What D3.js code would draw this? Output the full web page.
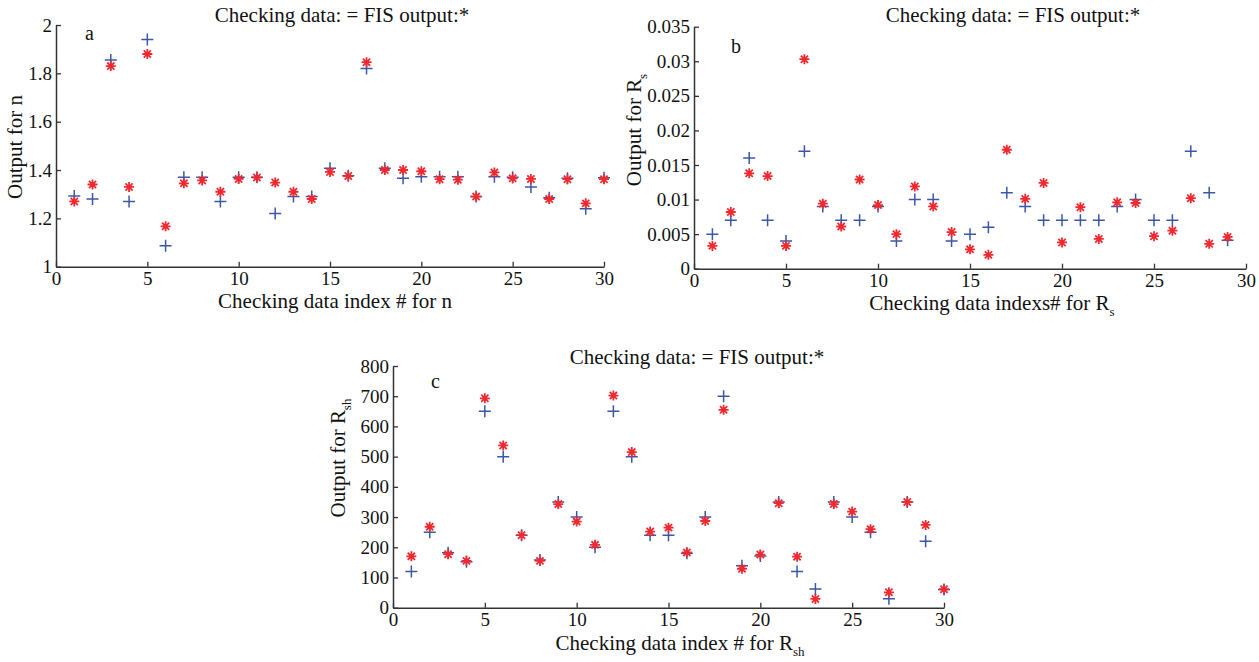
<!DOCTYPE html>
<html>
<head>
<meta charset="utf-8">
<script src="https://cdn.jsdelivr.net/npm/d3@7"></script>
<style>
body { margin: 0; background: #fff; }
text { font-family: "Liberation Serif", "Times New Roman", serif; fill: #111; }
</style>
</head>
<body>
<script>
// checking data index (x) for each panel
var idx30 = [1,2,3,4,5,6,7,8,9,10,11,12,13,14,15,16,17,18,19,20,21,22,23,24,25,26,27,28,29,30];
var idx29 = [1,2,3,4,5,6,7,8,9,10,11,12,13,14,15,16,17,18,19,20,21,22,23,24,25,26,27,28,29];

// panel a : n
var nChecking = [1.292,1.28,1.855,1.27,1.94,1.087,1.37,1.37,1.27,1.37,1.37,1.22,1.29,1.29,1.407,1.376,1.82,1.407,1.366,1.372,1.372,1.372,1.29,1.372,1.37,1.33,1.285,1.366,1.24,1.368];
var nFIS = [1.27,1.34,1.83,1.33,1.88,1.167,1.345,1.357,1.31,1.363,1.369,1.348,1.31,1.28,1.392,1.375,1.846,1.40,1.40,1.395,1.362,1.36,1.29,1.39,1.366,1.363,1.28,1.362,1.262,1.362];

// panel b : Rs
var rsChecking = [0.005,0.007,0.016,0.007,0.004,0.017,0.009,0.007,0.007,0.009,0.004,0.010,0.010,0.004,0.005,0.006,0.011,0.009,0.007,0.007,0.007,0.007,0.009,0.010,0.007,0.007,0.017,0.011,0.0041];
var rsFIS = [0.0033,0.0082,0.0138,0.0134,0.0033,0.0303,0.0094,0.0061,0.0129,0.0092,0.005,0.0119,0.009,0.0053,0.0028,0.002,0.0172,0.0101,0.0124,0.0038,0.0089,0.0043,0.0096,0.0095,0.0047,0.0055,0.0102,0.0036,0.0046];

// panel c : Rsh
var rshChecking = [120,250,182,152,650,500,240,158,350,300,200,650,500,240,240,180,300,700,139,171,350,120,62,350,300,250,30,350,220,60];
var rshFIS = [170,268,177,155,693,537,240,155,343,285,208,702,515,252,265,183,287,655,129,176,346,169,29,343,318,260,51,350,274,61];

var xTicks = [0,5,10,15,20,25,30];
var nTicks = [1,1.2,1.4,1.6,1.8,2];
var rsTicks = [0,0.005,0.01,0.015,0.02,0.025,0.03,0.035];
var rshTicks = [0,100,200,300,400,500,600,700,800];

var titleText = "Checking data: = FIS output:*";

var width = 1259, height = 662;
var svg = d3.select("body").append("svg")
  .attr("width", width)
  .attr("height", height);

var blue = "#3b57a8";
var red = "#ee2a30";
var serif = "'Liberation Serif', 'Times New Roman', serif";

function drawPanel(p) {
  var x = d3.scaleLinear().domain([0, 30]).range([p.left, p.right]);
  var y = d3.scaleLinear().domain(p.yDomain).range([p.bottom, p.top]);
  var g = svg.append("g");

  var xAxis = g.append("g")
    .attr("transform", "translate(0," + p.bottom + ")")
    .call(d3.axisBottom(x).tickValues(xTicks).tickSizeInner(-5).tickSizeOuter(0).tickPadding(5));
  var yAxis = g.append("g")
    .attr("transform", "translate(" + p.left + ",0)")
    .call(d3.axisLeft(y).tickValues(p.yTicks).tickSizeInner(-5).tickSizeOuter(0).tickPadding(4).tickFormat(p.fmt));

  [xAxis, yAxis].forEach(function (a) {
    a.attr("font-family", serif).attr("font-size", 19);
    a.selectAll("path").attr("stroke", "#333").attr("stroke-width", 1.5);
    a.selectAll("line").attr("stroke", "#333").attr("stroke-width", 1.3);
    a.selectAll("text").attr("fill", "#111")
      .style("font-size", "19px")
      .style("font-family", serif);
  });

  // checking data: blue plus
  g.append("g").selectAll("path")
    .data(p.checking)
    .enter().append("path")
    .attr("d", function (d, i) {
      var cx = x(p.idx[i]), cy = y(d), s = 6;
      return "M" + (cx - s) + "," + cy + "H" + (cx + s) + "M" + cx + "," + (cy - s) + "V" + (cy + s);
    })
    .attr("stroke", blue)
    .attr("stroke-width", 1.5)
    .attr("fill", "none");

  // FIS output: red star
  g.append("g").selectAll("path")
    .data(p.fis)
    .enter().append("path")
    .attr("d", function (d, i) {
      var cx = x(p.idx[i]), cy = y(d), s = 5, t = 3.6;
      return "M" + (cx - s) + "," + cy + "H" + (cx + s) +
        "M" + cx + "," + (cy - s) + "V" + (cy + s) +
        "M" + (cx - t) + "," + (cy - t) + "L" + (cx + t) + "," + (cy + t) +
        "M" + (cx - t) + "," + (cy + t) + "L" + (cx + t) + "," + (cy - t);
    })
    .attr("stroke", red)
    .attr("stroke-width", 1.8)
    .attr("fill", "none");

  g.append("text")
    .attr("x", p.titleX).attr("y", p.titleY)
    .attr("text-anchor", "middle")
    .style("font-size", "21px")
    .text(titleText);

  var xl = g.append("text")
    .attr("x", p.xlX).attr("y", p.xlY)
    .attr("text-anchor", "middle")
    .style("font-size", "21px")
    .text(p.xlabel);
  if (p.sub) xl.append("tspan").attr("dy", 6).style("font-size", "13px").text(p.sub);

  var yl = g.append("text")
    .attr("transform", "translate(" + p.ylX + "," + p.ylY + ") rotate(-90)")
    .attr("text-anchor", "middle")
    .style("font-size", "21px")
    .text(p.ylabel);
  if (p.sub) yl.append("tspan").attr("dy", 6).style("font-size", "13px").text(p.sub);

  g.append("text")
    .attr("x", p.letterX).attr("y", p.letterY)
    .style("font-size", "20px")
    .text(p.letter);
}

function fmtPlain(d) { return d === 0 ? "0" : String(+d.toFixed(3)); }

drawPanel({
  idx: idx30, checking: nChecking, fis: nFIS,
  left: 56, right: 604, top: 25, bottom: 266.7,
  yDomain: [1, 2], yTicks: nTicks, fmt: fmtPlain,
  titleX: 342, titleY: 22,
  xlabel: "Checking data index # for n", sub: null, xlX: 335, xlY: 308,
  ylabel: "Output for n", ylX: 22, ylY: 147,
  letter: "a", letterX: 85, letterY: 40
});

drawPanel({
  idx: idx29, checking: rsChecking, fis: rsFIS,
  left: 694, right: 1246, top: 26.7, bottom: 268.7,
  yDomain: [0, 0.035], yTicks: rsTicks, fmt: fmtPlain,
  titleX: 1013, titleY: 22,
  xlabel: "Checking data indexs# for R", sub: "s", xlX: 992, xlY: 310,
  ylabel: "Output for R", ylX: 641, ylY: 130,
  letter: "b", letterX: 731, letterY: 53
});

drawPanel({
  idx: idx30, checking: rshChecking, fis: rshFIS,
  left: 393, right: 944, top: 366, bottom: 607.7,
  yDomain: [0, 800], yTicks: rshTicks, fmt: fmtPlain,
  titleX: 697, titleY: 364,
  xlabel: "Checking data index # for R", sub: "sh", xlX: 680, xlY: 650,
  ylabel: "Output for R", ylX: 345, ylY: 458,
  letter: "c", letterX: 431, letterY: 388
});
</script>
</body>
</html>
